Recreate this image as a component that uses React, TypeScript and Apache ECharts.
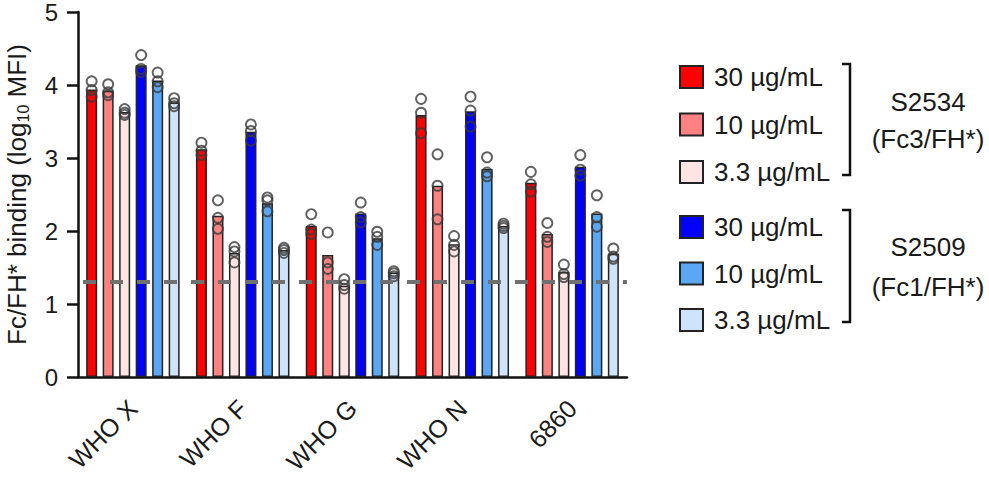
import React, { useEffect, useRef } from "react";
import * as echarts from "echarts";

const categories = ["WHO X", "WHO F", "WHO G", "WHO N", "6860"];

const s2534_30 = [3.94, 3.12, 2.07, 3.59, 2.66];
const s2534_10 = [3.92, 2.21, 1.67, 2.62, 1.96];
const s2534_3 = [3.63, 1.7, 1.25, 1.82, 1.44];
const s2509_30 = [4.27, 3.36, 2.24, 3.64, 2.88];
const s2509_10 = [4.06, 2.38, 1.9, 2.85, 2.24];
const s2509_3 = [3.76, 1.74, 1.43, 2.07, 1.69];

const d2534_30 = [[4.05, 3.93, 3.84], [3.21, 3.1, 3.04], [2.23, 2.02, 1.96], [3.81, 3.62, 3.34], [2.81, 2.64, 2.54]];
const d2534_10 = [[4.01, 3.9, 3.86], [2.42, 2.18, 2.03], [1.98, 1.57, 1.48], [3.05, 2.62, 2.16], [2.11, 1.92, 1.85]];
const d2534_3 = [[3.67, 3.62, 3.59], [1.78, 1.72, 1.57], [1.34, 1.26, 1.21], [1.93, 1.81, 1.72], [1.54, 1.41, 1.37]];
const d2509_30 = [[4.41, 4.22, 4.18], [3.46, 3.37, 3.24], [2.39, 2.19, 2.12], [3.84, 3.65, 3.43], [3.04, 2.84, 2.76]];
const d2509_10 = [[4.17, 4.05, 3.97], [2.46, 2.42, 2.27], [1.99, 1.92, 1.81], [3.01, 2.8, 2.75], [2.49, 2.19, 2.06]];
const d2509_3 = [[3.82, 3.75, 3.71], [1.77, 1.74, 1.7], [1.45, 1.42, 1.38], [2.1, 2.07, 2.04], [1.76, 1.65, 1.62]];

const yTicks = [0, 1, 2, 3, 4, 5];
const threshold = 1.3;

const concLabels = ["30 µg/mL", "10 µg/mL", "3.3 µg/mL"];
const groupA = ["S2534", "(Fc3/FH*)"];
const groupB = ["S2509", "(Fc1/FH*)"];

const colors = ["#ff0000", "#ff8282", "#ffe4e4", "#0000ff", "#5aa8f5", "#cfe4fb"];

const FONT = "'Liberation Sans', Arial, sans-serif";
const INK = "#1a1a1a";

const barSets = [s2534_30, s2534_10, s2534_3, s2509_30, s2509_10, s2509_3];
const dotSets = [d2534_30, d2534_10, d2534_3, d2509_30, d2509_10, d2509_3];
const names = [
  "S2534|" + concLabels[0],
  "S2534|" + concLabels[1],
  "S2534|" + concLabels[2],
  "S2509|" + concLabels[0],
  "S2509|" + concLabels[1],
  "S2509|" + concLabels[2],
];

const BAR_W = 11;
const PITCH = BAR_W * 1.5;

function buildOption() {
  const bars = barSets.map((vals, i) => ({
    type: "bar",
    name: names[i],
    data: vals,
    barWidth: BAR_W,
    barGap: "50%",
    itemStyle: { color: colors[i], borderColor: "#222", borderWidth: 1.5 },
    z: 2,
    ...(i === 0
      ? {
          markLine: {
            silent: true,
            symbol: ["none", "none"],
            label: { show: false },
            lineStyle: { type: [13, 14], dashOffset: 22, width: 4, color: "#707070" },
            data: [{ yAxis: threshold }],
          },
        }
      : {}),
  }));
  const dots = dotSets.map((groups, i) => ({
    type: "scatter",
    name: names[i] + " pts",
    data: groups.flatMap((arr, c) => arr.map((v) => [c, v])),
    symbol: "circle",
    symbolSize: 10,
    symbolOffset: [(i - 2.5) * PITCH, 0],
    itemStyle: { color: "rgba(255,255,255,0)", borderColor: "#3a3a3a", borderWidth: 1.9 },
    z: 4,
  }));

  const legendBase = {
    orient: "vertical",
    left: 679,
    padding: 0,
    itemWidth: 23,
    itemHeight: 22,
    icon: "rect",
    selectedMode: false,
    formatter: (n: string) => n.split("|")[1],
    textStyle: { fontSize: 26, color: INK, fontFamily: FONT, lineHeight: 22, padding: [0, 0, 0, 6] },
  };

  const bracket = (top: number, bottom: number) => ({
    type: "polyline",
    shape: { points: [[842, top], [850, top], [850, bottom], [842, bottom]] },
    style: { stroke: "#111", lineWidth: 2.5, fill: "none" },
  });
  const label = (text: string, y: number) => ({
    type: "text",
    x: 928,
    y,
    style: { text, fontSize: 26, fontFamily: FONT, fill: INK, align: "center", verticalAlign: "middle" },
  });

  return {
    animation: false,
    backgroundColor: "#ffffff",
    grid: { left: 78, top: 12, width: 549, height: 365, containLabel: false, outerBoundsMode: "none" },
    xAxis: {
      type: "category",
      data: categories,
      axisLine: { lineStyle: { color: "#111", width: 2.5 } },
      axisTick: { alignWithLabel: true, length: 15, lineStyle: { color: "#111", width: 2.5 } },
      axisLabel: { interval: 0, rotate: 45, fontSize: 25, color: INK, fontFamily: FONT, margin: 27 },
    },
    yAxis: {
      type: "value",
      min: yTicks[0],
      max: yTicks[yTicks.length - 1],
      interval: 1,
      name: "Fc/FH* binding (log{sub|10} MFI)",
      nameLocation: "middle",
      nameGap: 47,
      nameRotate: 90,
      nameTextStyle: {
        fontSize: 26,
        color: INK,
        fontFamily: FONT,
        rich: { sub: { fontSize: 16, fontFamily: FONT, color: INK, verticalAlign: "top", padding: [13, 0, 0, 0] } },
      },
      axisLine: { show: true, lineStyle: { color: "#111", width: 2.5 } },
      axisTick: { show: true, length: 11, lineStyle: { color: "#111", width: 2.5 } },
      axisLabel: { fontSize: 24, color: INK, fontFamily: FONT, margin: 20 },
      splitLine: { show: false },
    },
    legend: [
      { ...legendBase, top: 64, itemGap: 21.5, data: names.slice(0, 3) },
      { ...legendBase, top: 214, itemGap: 20.5, data: names.slice(3, 6) },
    ],
    graphic: [
      bracket(64, 175),
      bracket(210, 322),
      label(groupA[0], 102),
      label(groupA[1], 139),
      label(groupB[0], 247),
      label(groupB[1], 287),
    ],
    series: [...bars, ...dots],
  };
}

export default function App() {
  const ref = useRef<HTMLDivElement>(null);
  useEffect(() => {
    if (!ref.current) return;
    const chart = echarts.init(ref.current, null, { renderer: "svg" });
    chart.setOption(buildOption() as any);
    return () => chart.dispose();
  }, []);
  return (
    <div
      ref={ref}
      style={{ position: "fixed", left: 0, top: 0, width: 989, height: 478, background: "#fff" }}
    />
  );
}
